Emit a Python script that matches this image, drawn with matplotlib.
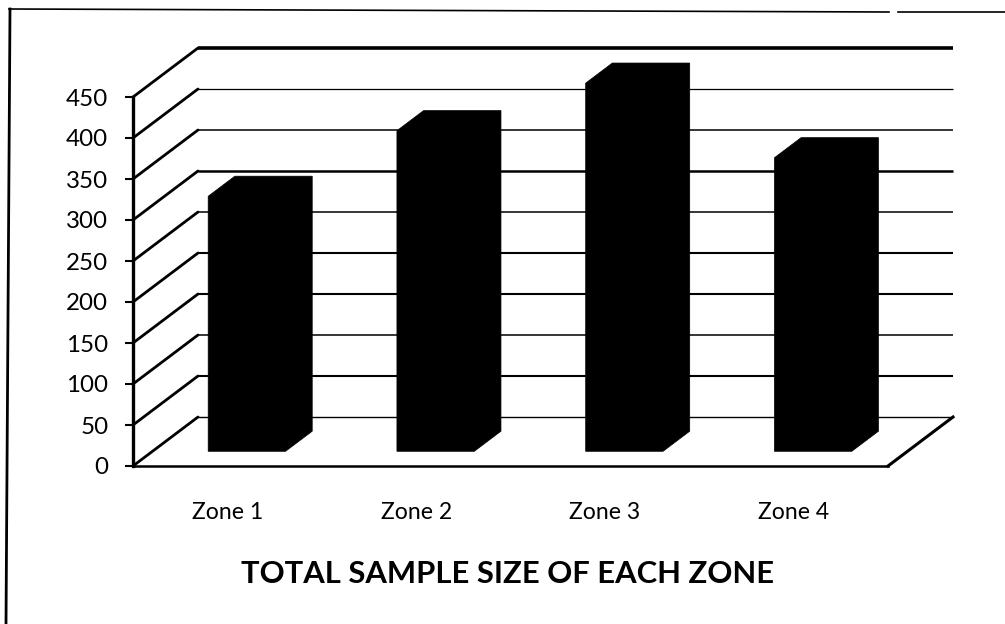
import matplotlib
matplotlib.use('Agg')
import matplotlib.pyplot as plt
from matplotlib.patches import Polygon

zones = ['Zone 1', 'Zone 2', 'Zone 3', 'Zone 4']
sample_size = [311, 391, 449, 358]
y_ticks = [0, 50, 100, 150, 200, 250, 300, 350, 400, 450]

W, H = 1005, 624
LEFT, RIGHT, BASE, TOP = 133, 888, 466, 97  # front plane in pixels
DEPTH_X, DEPTH_Y = 65, 49  # wall offset in pixels

plt.rcParams['font.family'] = ['Lato', 'DejaVu Sans']

fig = plt.figure(figsize=(W / 100, H / 100), dpi=100)
ax = fig.add_axes([LEFT / W, 1 - BASE / H, (RIGHT - LEFT) / W, (BASE - TOP) / H])
ax.set_xlim(0, len(zones))
ax.set_ylim(0, 450)
ax.patch.set_visible(False)

# depth expressed in data units, so everything goes through the axes scales
dx_unit = DEPTH_X / ((RIGHT - LEFT) / len(zones))
dy_unit = DEPTH_Y / ((BASE - TOP) / 450)


def project(x, y, depth):
    return x + depth * dx_unit, y + depth * dy_unit


# gridlines on the back and side walls, the scan makes their weight uneven
grid_widths = [1.0, 1.5, 1.1, 1.5, 1.5, 1.1, 1.8, 1.1, 0.9, 2.6]
for tick, lw in zip(y_ticks, grid_widths):
    bx, by = project(0, tick, 1)
    ex, ey = project(len(zones), tick, 1)
    ax.plot([0, bx], [tick, by], color='black', lw=2.0, clip_on=False, solid_capstyle='round')
    ax.plot([bx, ex], [by, ey], color='black', lw=lw, clip_on=False, solid_capstyle='butt')

# floor edge on the right
ex, ey = project(len(zones), 0, 1)
ax.plot([len(zones), ex], [0, ey], color='black', lw=2.2, clip_on=False)

# bars
bar_width = 0.41
d0, d1 = 0.3, 0.71
for i, val in enumerate(sample_size):
    x0 = i + 0.5 - bar_width / 2
    x1 = x0 + bar_width
    outline = [
        project(x0, 0, d0), project(x1, 0, d0), project(x1, 0, d1),
        project(x1, val, d1), project(x0, val, d1), project(x0, val, d0),
    ]
    ax.add_patch(Polygon(outline, closed=True, facecolor='black', edgecolor='black',
                         lw=0.5, clip_on=False, zorder=3))

for side in ['top', 'right']:
    ax.spines[side].set_visible(False)
ax.spines['left'].set_linewidth(2.4)
ax.spines['bottom'].set_linewidth(1.8)

ax.set_yticks(y_ticks)
ax.set_yticklabels([str(t) for t in y_ticks], fontsize=17.4)
ax.set_xticks([i + 0.5 for i in range(len(zones))])
ax.set_xticklabels(zones, fontsize=16.6)
ax.tick_params(axis='x', length=0, pad=26)
ax.tick_params(axis='y', length=5.8, width=1.5, pad=12)

fig.text(508 / W, 1 - 574 / H, 'TOTAL SAMPLE SIZE OF EACH ZONE', fontsize=22.3, fontweight='bold',
         ha='center', va='center')

# scanned frame: slightly skewed top edge with a small gap, and left edge
fig.add_artist(plt.Line2D([9 / W, 889 / W], [1 - 9 / H, 1 - 12 / H], color='black', lw=1.2))
fig.add_artist(plt.Line2D([898 / W, 1005 / W], [1 - 12 / H, 1 - 12 / H], color='black', lw=1.2))
fig.add_artist(plt.Line2D([10 / W, 6 / W], [1 - 9 / H, 0], color='black', lw=2.0))

fig.savefig('out.png', dpi=100)
plt.close()
